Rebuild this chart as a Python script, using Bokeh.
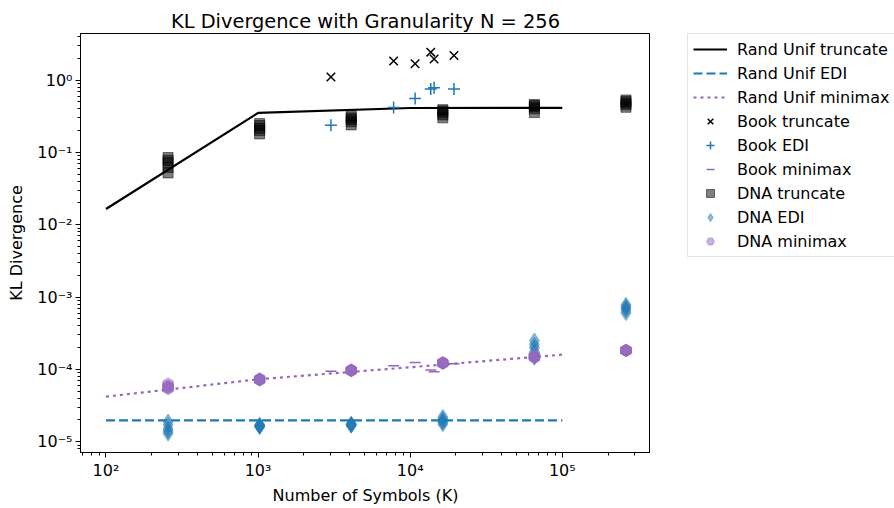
import numpy as np
from bokeh.plotting import figure
from bokeh.layouts import row
from bokeh.models import Legend, LegendItem, FixedTicker, CustomJSTickFormatter
from bokeh.embed import file_html
from bokeh.resources import INLINE

# ---------------- data ----------------
rand_sizes = [100, 1000, 10000, 100000]
rand_truncate = [0.0165, 0.351, 0.411, 0.412]
rand_edi = [1.97e-5, 1.98e-5, 1.98e-5, 1.98e-5]
rand_minimax = [4.2e-5, 7.3e-5, 1.07e-4, 1.6e-4]

book_sizes = [3013, 7780, 10770, 13650, 14360, 19400]
book_truncate = [1.10, 1.83, 1.68, 2.43, 1.95, 2.19]
book_edi = [0.237, 0.416, 0.557, 0.755, 0.785, 0.755]
book_minimax = [9.4e-5, 1.12e-4, 1.25e-4, 9.8e-5, 9.3e-5, 1.2e-4]

dna_sizes = [256, 1024, 4096, 16384, 65536, 262144]
dna_truncate = [
    [0.085, 0.078, 0.072, 0.062, 0.052],
    [0.25, 0.235, 0.215, 0.20, 0.18],
    [0.32, 0.30, 0.285, 0.265, 0.24],
    [0.39, 0.375, 0.355, 0.33, 0.30],
    [0.46, 0.445, 0.425, 0.40, 0.355],
    [0.53, 0.505, 0.48, 0.455, 0.42],
]
dna_edi = [
    [1.9e-5, 1.7e-5, 1.5e-5, 1.4e-5, 1.3e-5],
    [1.72e-5, 1.65e-5, 1.6e-5, 1.68e-5, 1.62e-5],
    [1.78e-5, 1.74e-5, 1.7e-5, 1.66e-5, 1.72e-5],
    [2.2e-5, 2.05e-5, 1.95e-5, 1.85e-5, 1.75e-5],
    [2.5e-4, 2.2e-4, 2.0e-4, 1.75e-4, 1.45e-4],
    [7.8e-4, 7.3e-4, 7.0e-4, 6.5e-4, 6.0e-4],
]
dna_minimax = [
    [6.3e-5, 5.9e-5, 5.6e-5, 5.4e-5, 5.7e-5],
    [7.4e-5, 7.2e-5, 7.3e-5, 7.1e-5, 7.3e-5],
    [9.8e-5, 9.6e-5, 9.7e-5, 9.8e-5, 9.6e-5],
    [1.24e-4, 1.22e-4, 1.23e-4, 1.21e-4, 1.24e-4],
    [1.55e-4, 1.5e-4, 1.45e-4, 1.48e-4, 1.52e-4],
    [1.84e-4, 1.82e-4, 1.83e-4, 1.84e-4, 1.82e-4],
]

x_ticks = [100, 1000, 10000, 100000]
x_tick_labels = ["10²", "10³", "10⁴", "10⁵"]
y_ticks = [1e-5, 1e-4, 1e-3, 1e-2, 1e-1, 1e0]
y_tick_labels = ["10⁻⁵", "10⁻⁴", "10⁻³", "10⁻²", "10⁻¹", "10⁰"]

title_text = "KL Divergence with Granularity N = 256"
x_label = "Number of Symbols (K)"
y_label = "KL Divergence"
legend_labels = ["Rand Unif truncate", "Rand Unif EDI", "Rand Unif minimax",
                 "Book truncate", "Book EDI", "Book minimax",
                 "DNA truncate", "DNA EDI", "DNA minimax"]

# ---------------- styles ----------------
FONT = "DejaVu Sans"
FS = "16px"
BLUE = "#1f77b4"
PURPLE = "#9467bd"

line_styles = [
    dict(line_color="black", line_width=2.2),
    dict(line_color=BLUE, line_width=2.2, line_dash="9 4"),
    dict(line_color=PURPLE, line_width=2.2, line_dash="3 4"),
]
marker_styles = [
    dict(marker="x", size=12, line_color="black", line_width=1.5),
    dict(marker="cross", size=12, line_color=BLUE, line_width=1.5),
    dict(marker="dash", size=11, line_color=PURPLE, line_width=1.5),
    dict(marker="square", size=10, fill_color="black", line_color="black",
         fill_alpha=0.5, line_alpha=0.5),
    dict(marker="diamond", size=15, fill_color=BLUE, line_color=BLUE,
         fill_alpha=0.5, line_alpha=0.5),
    dict(marker="hex", size=12, angle=np.pi / 2, fill_color=PURPLE, line_color=PURPLE,
         fill_alpha=0.5, line_alpha=0.5),
]


def flat(sizes, groups):
    xs, ys = [], []
    for s, g in zip(sizes, groups):
        for v in g:
            xs.append(s)
            ys.append(v)
    return xs, ys


p = figure(
    width=650, height=508,
    x_axis_type="log", y_axis_type="log",
    x_range=(68, 3.8e5), y_range=(7.1e-6, 4.4),
    output_backend="svg", toolbar_location=None,
    min_border_left=80, min_border_right=0,
    min_border_top=26, min_border_bottom=56,
)
p.title.text = title_text
p.title.align = "center"
p.title.text_font = FONT
p.title.text_font_size = "19.4px"
p.title.text_font_style = "normal"
p.title.text_color = "black"
p.title.standoff = 2

p.xgrid.visible = False
p.ygrid.visible = False
p.outline_line_color = "black"
p.outline_line_width = 1
p.background_fill_color = "white"
p.border_fill_color = "white"

xminor = [m * 10.0 ** e for e in range(1, 6) for m in range(2, 10)]
yminor = [m * 10.0 ** e for e in range(-6, 1) for m in range(2, 10)]
p.xaxis.ticker = FixedTicker(ticks=x_ticks, minor_ticks=xminor)
p.yaxis.ticker = FixedTicker(ticks=y_ticks, minor_ticks=yminor)

fmt_code = "const e = String(Math.round(Math.log10(tick))); return labels[e] ?? '';"
p.xaxis.formatter = CustomJSTickFormatter(
    args=dict(labels={str(int(round(np.log10(t)))): l for t, l in zip(x_ticks, x_tick_labels)}),
    code=fmt_code)
p.yaxis.formatter = CustomJSTickFormatter(
    args=dict(labels={str(int(round(np.log10(t)))): l for t, l in zip(y_ticks, y_tick_labels)}),
    code=fmt_code)

for ax in (p.xaxis, p.yaxis):
    ax.axis_line_color = "black"
    ax.major_tick_line_color = "black"
    ax.minor_tick_line_color = "black"
    ax.major_tick_in = 0
    ax.major_tick_out = 5
    ax.minor_tick_in = 0
    ax.minor_tick_out = 3
    ax.major_label_text_font = FONT
    ax.major_label_text_font_size = FS
    ax.major_label_text_color = "black"
    ax.axis_label_text_font = FONT
    ax.axis_label_text_font_size = FS
    ax.axis_label_text_font_style = "normal"
    ax.axis_label_text_color = "black"
    ax.major_label_standoff = 3
p.xaxis.axis_label = x_label
p.yaxis.axis_label = y_label
p.xaxis.axis_label_standoff = 3
p.yaxis.axis_label_standoff = 8

r1 = p.line(rand_sizes, rand_truncate, **line_styles[0])
r2 = p.line(rand_sizes, rand_edi, **line_styles[1])
r3 = p.line(rand_sizes, rand_minimax, **line_styles[2])

r4 = p.scatter(book_sizes, book_truncate, **marker_styles[0])
r5 = p.scatter(book_sizes, book_edi, **marker_styles[1])
r6 = p.scatter(book_sizes, book_minimax, **marker_styles[2])

tx, ty = flat(dna_sizes, dna_truncate)
ex, ey = flat(dna_sizes, dna_edi)
mx, my = flat(dna_sizes, dna_minimax)
r7 = p.scatter(tx, ty, **marker_styles[3])
r8 = p.scatter(ex, ey, **marker_styles[4])
r9 = p.scatter(mx, my, **marker_styles[5])

# ---------------- legend panel (separate figure to the right) ----------------
# Its ranges are fixed to (0, 1) so the series drawn here (the same arrays) stay
# out of view; they only serve as legend glyph sources.
lf = figure(
    width=244, height=508, x_range=(0, 1), y_range=(0, 1),
    x_axis_location=None, y_axis_location=None,
    output_backend="svg", toolbar_location=None,
    min_border_left=37, min_border_top=33, min_border_right=0, min_border_bottom=0,
)
lf.outline_line_color = None
lf.xgrid.visible = False
lf.ygrid.visible = False
lf.background_fill_color = "white"
lf.border_fill_color = "white"

leg_series = [(rand_sizes, rand_truncate), (rand_sizes, rand_edi), (rand_sizes, rand_minimax),
              (book_sizes, book_truncate), (book_sizes, book_edi), (book_sizes, book_minimax),
              (tx, ty), (ex, ey), (mx, my)]
leg_renderers = []
for i, (xs, ys) in enumerate(leg_series):
    if i < 3:
        leg_renderers.append(lf.line(xs, ys, **line_styles[i]))
    else:
        leg_renderers.append(lf.scatter(xs, ys, **marker_styles[i - 3]))

legend = Legend(
    items=[LegendItem(label=l, renderers=[r]) for l, r in zip(legend_labels, leg_renderers)],
    location="top_left",
)
legend.label_text_font = FONT
legend.label_text_font_size = FS
legend.label_text_color = "black"
legend.label_height = 20
legend.glyph_height = 20
legend.glyph_width = 34
legend.label_standoff = 10
legend.spacing = 4
legend.padding = 5
legend.margin = 0
legend.border_line_color = "#cccccc"
legend.border_line_width = 1
legend.background_fill_alpha = 0.8
lf.add_layout(legend)

layout = row(p, lf)
open("out.html", "w").write(file_html(layout, INLINE))
